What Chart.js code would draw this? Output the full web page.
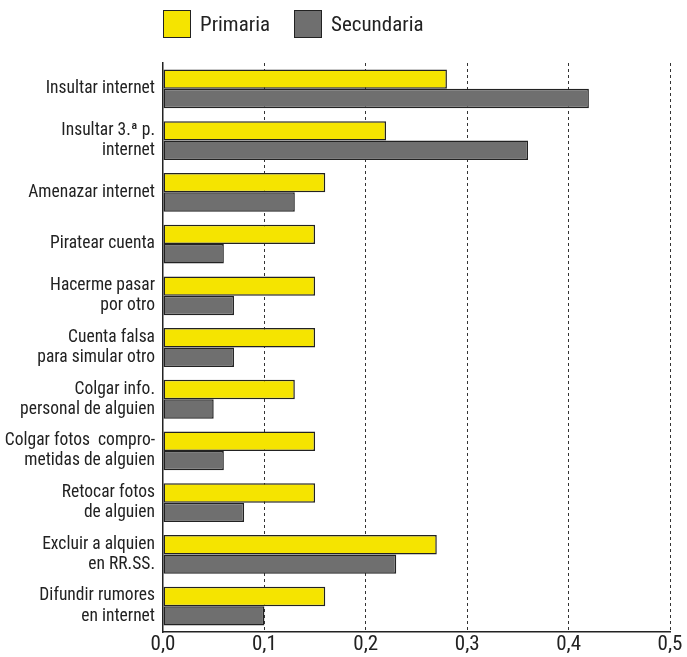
<!DOCTYPE html>
<html lang="es">
<head>
    <meta charset="UTF-8">
    <title>Primaria / Secundaria</title>
    <script src="https://cdn.jsdelivr.net/npm/chart.js"></script>
    <style>
        body { margin: 0; background: #fff; }
        #wrap { position: relative; width: 687px; height: 657px; }
        #legend {
            position: absolute; left: 163px; top: 10px;
            font-family: 'Liberation Sans Narrow', 'Roboto Condensed', 'DejaVu Sans Condensed', sans-serif;
            font-size: 21px; color: #222; display: flex; align-items: center;
        }
        #legend .box { width: 26px; height: 26px; border: 1px solid #222; display: inline-block; margin-right: 9px; }
        #legend .item { display: flex; align-items: center; margin-right: 24px; }
    </style>
</head>
<body>
<div id="wrap">
    <canvas id="chart"></canvas>
    <div id="legend">
        <span class="item"><span class="box" style="background:#f5e400"></span>Primaria</span>
        <span class="item"><span class="box" style="background:#6f6f6f"></span>Secundaria</span>
    </div>
</div>
<script>
    const categories = [
        'Insultar internet',
        ['Insultar 3.ª p.', 'internet'],
        'Amenazar internet',
        'Piratear cuenta',
        ['Hacerme pasar', 'por otro'],
        ['Cuenta falsa', 'para simular otro'],
        ['Colgar info.', 'personal de alguien'],
        ['Colgar fotos  compro-', 'metidas de alguien'],
        ['Retocar fotos', 'de alguien'],
        ['Excluir a alquien', 'en RR.SS.'],
        ['Difundir rumores', 'en internet']
    ];
    const primaria = [0.28, 0.22, 0.16, 0.15, 0.15, 0.15, 0.13, 0.15, 0.15, 0.27, 0.16];
    const secundaria = [0.42, 0.36, 0.13, 0.06, 0.07, 0.07, 0.05, 0.06, 0.08, 0.23, 0.10];
    const xTicks = [0, 0.1, 0.2, 0.3, 0.4, 0.5];

    const fontFamily = "'Liberation Sans Narrow', 'Roboto Condensed', 'DejaVu Sans Condensed', sans-serif";

    const ctx = document.getElementById('chart').getContext('2d');
    new Chart(ctx, {
        type: 'bar',
        data: {
            labels: categories,
            datasets: [{
                label: 'Primaria',
                data: primaria,
                backgroundColor: '#f5e400',
                borderColor: '#222',
                borderWidth: 1.5,
                borderSkipped: false
            }, {
                label: 'Secundaria',
                data: secundaria,
                backgroundColor: '#6f6f6f',
                borderColor: '#222',
                borderWidth: 1.5,
                borderSkipped: false
            }]
        },
        options: {
            indexAxis: 'y',
            responsive: true,
            maintainAspectRatio: false,
            animation: false,
            datasets: {
                bar: { categoryPercentage: 0.75, barPercentage: 1 }
            },
            layout: { padding: { top: 63, right: 17, bottom: 0, left: 0 } },
            plugins: {
                legend: { display: false },
                tooltip: { enabled: false }
            },
            scales: {
                x: {
                    min: 0,
                    max: 0.5,
                    afterBuildTicks: axis => { axis.ticks = xTicks.map(v => ({ value: v })); },
                    ticks: {
                        color: '#222',
                        padding: 2,
                        font: { family: fontFamily, size: 21, lineHeight: 1 },
                        callback: v => v.toFixed(1).replace('.', ',')
                    },
                    grid: {
                        color: c => c.index === 0 ? 'transparent' : '#333',
                        lineWidth: 1,
                        drawTicks: false
                    },
                    border: { display: true, color: '#222', width: 1.5, dash: [3, 3] }
                },
                y: {
                    afterFit: axis => { axis.width = 163; },
                    ticks: {
                        color: '#222',
                        padding: 0,
                        font: { family: fontFamily, size: 17.5, lineHeight: 1.15 }
                    },
                    grid: { display: false },
                    border: { display: true, color: '#222', width: 1.5 }
                }
            }
        }
    });
</script>
</body>
</html>
